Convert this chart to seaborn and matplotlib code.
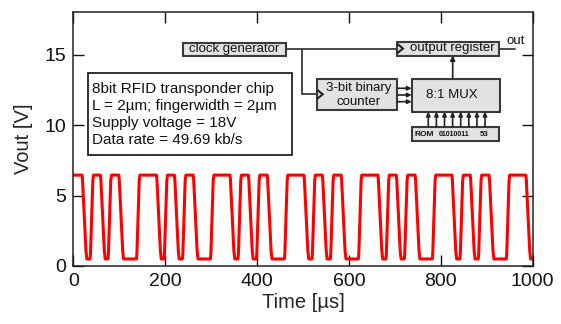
import numpy as np
import pandas as pd
import matplotlib
matplotlib.use("Agg")
import matplotlib.pyplot as plt
import seaborn as sns
from matplotlib.patches import Rectangle, Polygon

# ---- data ----
fall_times_us = [24, 64, 104, 186, 225, 266, 346, 386, 427, 507, 547, 588,
                 668, 708, 749, 829, 869, 910, 990]
rise_times_us = [40, 79, 141, 201, 241, 302, 362, 402, 463, 523, 563, 624,
                 684, 724, 785, 845, 885, 946]
v_high = 6.45
v_low = 0.5
t_start, t_end = 0, 1000
x_ticks = [0, 200, 400, 600, 800, 1000]
y_ticks = [0, 5, 10, 15]
info_lines = ["8bit RFID transponder chip", "L = 2µm; fingerwidth = 2µm",
              "Supply voltage = 18V", "Data rate = 49.69 kb/s"]

# ---- build trace with finite edges ----
events = sorted([(t, "f") for t in fall_times_us] + [(t, "r") for t in rise_times_us])
ts = [t_start]
vs = [v_high]
for t, kind in events:
    if kind == "f":
        seg = [(t - 5, v_high), (t - 4, v_high - 0.3), (t + 3.5, v_low + 0.6), (t + 5.5, v_low)]
    else:
        seg = [(t - 3.5, v_low), (t - 2.5, v_low + 0.4), (t + 2.5, v_high - 0.4), (t + 4, v_high)]
    for a, b in seg:
        ts.append(min(a, t_end))
        vs.append(b)
ts.append(t_end)
vs.append(v_low)
df = pd.DataFrame({"t": ts, "v": vs})

sns.set_style("ticks", {"xtick.direction": "in", "ytick.direction": "in"})
plt.rcParams["font.family"] = ["Liberation Sans", "DejaVu Sans"]

fig = plt.figure(figsize=(5.61, 3.24), dpi=100)
ax = fig.add_axes([73.3 / 561, 58 / 324, 459.4 / 561, 253.7 / 324])
sns.lineplot(data=df, x="t", y="v", ax=ax, color="#ff0000", lw=2.2,
             sort=False, estimator=None)
ax.set_xlim(t_start, t_end)
ax.set_ylim(0, 18)
ax.set_xticks(x_ticks)
ax.set_yticks(y_ticks)
ax.tick_params(axis="both", which="both", direction="in", top=True, right=True,
               length=8, width=1, labelsize=14, colors="#111111")
ax.tick_params(axis="x", pad=5)
ax.tick_params(axis="y", pad=5)
ax.set_xlabel("Time [µs]", fontsize=14.5, labelpad=2)
ax.set_ylabel("Vout [V]", fontsize=14.5, labelpad=8)
for s in ax.spines.values():
    s.set_color("#222222")
    s.set_linewidth(1.1)

# ---- overlay in pixel coordinates for the annotations ----
ov = fig.add_axes([0, 0, 1, 1])
ov.set_xlim(0, 561)
ov.set_ylim(324, 0)
ov.axis("off")
ov.patch.set_alpha(0)

ec = "#3a3a3a"
fc = "#e2e2e2"

# info box
ov.add_patch(Rectangle((88.3, 73.3), 204, 81.7, facecolor="white", edgecolor="#111111", lw=1.2))
for i, line in enumerate(info_lines):
    ov.text(92, 88.5 + i * 17.1, line, fontsize=11, va="center", ha="left", color="#111111")

def box(x, y, w, h):
    ov.add_patch(Rectangle((x, y), w, h, facecolor=fc, edgecolor=ec, lw=1.5))

def clk(x, y):
    ov.add_patch(Polygon([(x + 0.5, y - 4.5), (x + 6, y), (x + 0.5, y + 4.5)], closed=False,
                         fill=False, edgecolor="#222222", lw=1.5))

def arrow(x0, y0, x1, y1, ms=7):
    ov.annotate("", xy=(x1, y1), xytext=(x0, y0),
                arrowprops=dict(arrowstyle="-|>", color="#222222", lw=1.2,
                                mutation_scale=ms, shrinkA=0, shrinkB=0))

# clock generator
box(183, 42.5, 103, 13)
ov.text(234.5, 49, "clock generator", fontsize=9.5, ha="center", va="center", color="#111111")
# output register
box(397, 41.5, 102, 14)
clk(397, 48.5)
ov.text(452, 48.5, "output register", fontsize=9.5, ha="center", va="center", color="#111111")
ov.plot([286, 397], [48.5, 48.5], color=ec, lw=1.3)
ov.plot([499, 515], [48.5, 48.5], color=ec, lw=1.3)
ov.text(516, 40.5, "out", fontsize=9.5, ha="center", va="center", color="#111111")
# branch to counter
ov.plot([301.7, 301.7, 316.7], [48.5, 94.3, 94.3], color=ec, lw=1.3)
box(316.7, 79.3, 80, 31)
clk(316.7, 94.3)
ov.text(359, 88, "3-bit binary", fontsize=9.5, ha="center", va="center", color="#111111")
ov.text(359, 102, "counter", fontsize=9.5, ha="center", va="center", color="#111111")
# counter -> mux
for yy in [88.3, 95.0, 101.7]:
    arrow(397, yy, 411.7, yy, ms=6)
box(411.7, 79.3, 88, 32.4)
ov.text(452, 95.5, "8:1 MUX", fontsize=9.5, ha="center", va="center", color="#111111")
arrow(452.7, 79.3, 452.7, 55.5)
# ROM
box(412.5, 126.7, 86.5, 14.5)
ov.text(415, 134, "ROM", fontsize=6.0, fontweight="bold", ha="left", va="center", color="#111111")
ov.text(454, 134.2, "01010011", fontsize=5.0, fontweight="bold", ha="center", va="center", color="#111111")
ov.text(484, 134.2, "53", fontsize=5.6, fontweight="bold", ha="center", va="center", color="#111111")
for i in range(8):
    xx = 428.3 + i * 8.1
    arrow(xx, 126.7, xx, 111.7, ms=6)

fig.savefig("out.png", dpi=100)
